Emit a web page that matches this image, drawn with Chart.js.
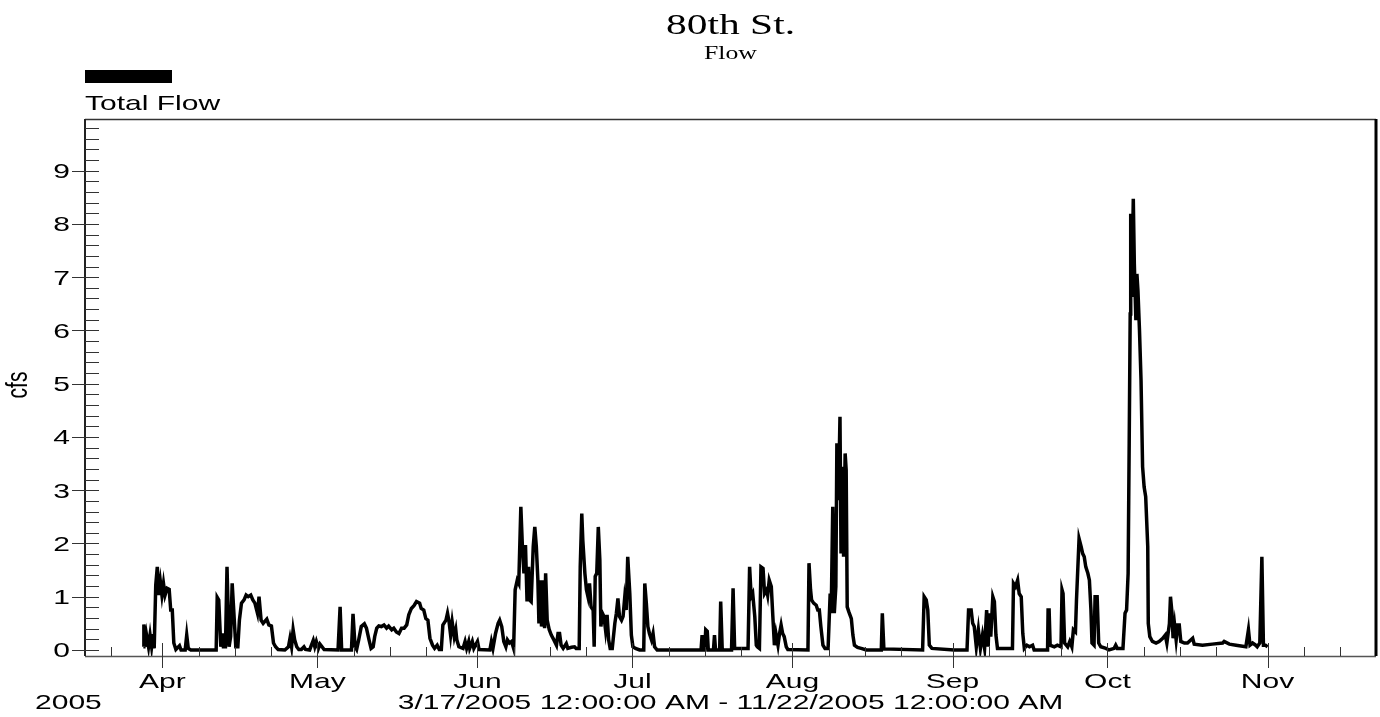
<!DOCTYPE html>
<html>
<head>
<meta charset="utf-8">
<title>80th St. - Flow</title>
<script src="https://cdn.jsdelivr.net/npm/chart.js@4.4.1/dist/chart.umd.min.js"></script>
<style>
    html, body { margin: 0; padding: 0; background: #fff; }
    canvas { display: block; }
</style>
</head>
<body>
<canvas id="flowChart" width="1380" height="717"></canvas>
<script>
// x values are days counted from 3/17/2005 12:00:00 AM
const flowDay = [
    11.3, 11.4, 11.6, 11.9, 12.3, 12.6, 12.9, 13.2, 13.4, 13.7, 14.0, 14.3, 14.6, 14.9, 15.2, 15.5,
    15.9, 16.3, 16.6, 16.9, 17.2, 17.6, 18.3, 18.6, 19.4, 19.7, 20.0, 20.5, 25.4, 25.6, 25.9, 26.3,
    26.6, 26.8, 27.2, 27.5, 27.9, 28.2, 28.5, 28.8, 29.2, 29.6, 29.9, 30.3, 30.8, 31.2, 31.6, 32.1,
    32.5, 32.9, 33.4, 33.7, 34.1, 34.5, 35.2, 35.6, 36.1, 36.5, 36.9, 37.4, 38.7, 39.4, 39.7, 40.0,
    40.3, 40.6, 41.0, 41.4, 41.9, 42.4, 42.7, 43.5, 44.2, 44.5, 44.8, 45.2, 45.5, 45.9, 46.3, 49.0,
    49.4, 49.7, 51.6, 51.9, 52.3, 52.6, 53.0, 53.5, 54.1, 54.5, 55.0, 55.4, 55.8, 56.1, 56.5, 56.9,
    57.4, 57.9, 58.4, 58.8, 59.4, 59.8, 60.3, 60.8, 61.3, 61.8, 62.3, 62.7, 63.2, 63.7, 64.2, 64.8,
    65.1, 65.6, 66.0, 66.4, 66.8, 67.3, 67.7, 68.2, 68.6, 69.0, 69.3, 69.9, 70.2, 70.5, 70.8, 71.1,
    71.5, 71.8, 72.0, 72.4, 73.2, 73.6, 73.9, 74.3, 74.5, 75.0, 75.3, 76.0, 76.3, 78.4, 78.7, 79.0,
    79.5, 80.0, 80.3, 80.7, 81.1, 81.5, 81.8, 82.2, 82.6, 83.0, 83.3, 83.7, 84.0, 84.4, 84.7, 85.0,
    85.3, 85.6, 85.9, 86.1, 86.4, 86.8, 87.1, 87.4, 87.7, 87.9, 88.2, 88.4, 88.8, 89.0, 89.2, 89.5,
    89.9, 90.3, 90.8, 91.3, 91.6, 91.9, 92.2, 92.6, 93.2, 93.5, 94.2, 94.8, 95.1, 95.7, 95.9, 96.2,
    96.4, 96.8, 97.1, 97.4, 97.7, 98.0, 98.4, 98.6, 98.8, 99.1, 99.4, 99.7, 99.9, 100.2, 100.5, 100.8,
    101.1, 101.4, 101.7, 102.1, 102.6, 102.9, 103.2, 103.5, 103.9, 104.2, 104.5, 104.8, 105.1, 105.5, 105.8, 106.1,
    106.6, 107.4, 108.2, 108.4, 108.7, 109.0, 109.3, 109.7, 110.0, 110.3, 110.8, 119.3, 119.5, 119.7, 120.0, 120.2,
    120.5, 120.7, 121.7, 121.9, 122.1, 122.9, 123.1, 123.4, 125.2, 125.5, 125.8, 128.4, 128.7, 129.0, 129.3, 129.7,
    130.0, 130.2, 130.6, 130.9, 131.3, 131.6, 132.0, 132.2, 132.5, 132.9, 133.2, 133.5, 133.8, 134.2, 134.5, 134.8,
    135.1, 135.4, 135.8, 136.1, 140.0, 140.2, 140.5, 140.7, 141.1, 141.6, 141.9, 142.2, 142.5, 142.9, 143.3, 143.9,
    144.3, 144.5, 144.8, 145.1, 145.4, 145.6, 145.9, 146.2, 146.4, 146.7, 146.9, 147.2, 147.4, 147.6, 147.9, 148.4,
    148.7, 149.0, 149.6, 150.3, 151.3, 154.2, 154.4, 154.7, 162.2, 162.5, 162.9, 163.2, 163.5, 164.0, 168.3, 170.8,
    171.1, 171.6, 171.9, 172.2, 172.6, 173.0, 173.4, 173.8, 174.2, 174.6, 174.9, 175.1, 175.4, 175.8, 176.1, 176.4,
    176.7, 179.6, 179.8, 180.2, 180.6, 180.9, 181.3, 181.6, 181.9, 182.4, 182.9, 183.5, 183.8, 186.4, 186.5, 186.7,
    186.9, 187.7, 188.3, 189.0, 189.2, 189.4, 189.7, 190.3, 190.7, 191.1, 191.4, 191.8, 192.0, 192.5, 192.9, 193.2,
    193.5, 193.8, 194.2, 194.5, 194.8, 195.0, 195.4, 195.6, 196.0, 196.3, 196.7, 197.7, 198.3, 199.3, 199.6, 199.9,
    201.0, 201.4, 201.7, 202.0, 202.2, 202.4, 202.5, 202.7, 203.0, 203.2, 203.5, 203.7, 203.9, 204.2, 204.5, 204.8,
    205.1, 205.4, 205.8, 205.9, 206.2, 206.7, 207.4, 208.0, 208.7, 209.2, 209.5, 210.0, 210.2, 210.5, 210.7, 211.0,
    211.3, 211.6, 211.9, 212.2, 212.9, 213.5, 214.5, 214.8, 216.4, 218.3, 220.3, 220.6, 221.6, 222.9, 224.8, 225.3,
    225.6, 226.1, 226.7, 227.0, 227.5, 227.9, 228.2, 228.6, 229.0
];

const flowCfs = [
    0.06, 0.48, 0.06, 0.29, 0.06, 0.28, 0.06, 0.30, 0.03, 1.22, 1.56, 1.03, 1.28, 1.03, 1.25, 1.03,
    1.16, 1.14, 0.75, 0.75, 0.13, 0.01, 0.08, 0, 0, 0.28, 0.03, 0, 0, 0.99, 0.94, 0.06,
    0.31, 0.06, 0.06, 1.56, 0.06, 0.25, 1.25, 0.75, 0.06, 0.06, 0.56, 0.88, 0.94, 1.03, 1.00, 1.03,
    0.94, 0.88, 0.69, 1.00, 0.56, 0.50, 0.58, 0.47, 0.45, 0.13, 0.06, 0.01, 0, 0.06, 0.22, 0.06,
    0.38, 0.19, 0.06, 0.01, 0.01, 0.06, 0.01, 0, 0.18, 0.06, 0.16, 0.03, 0.11, 0.06, 0.01, 0,
    0.81, 0, 0, 0.68, 0.06, 0.01, 0.19, 0.44, 0.49, 0.41, 0.19, 0.03, 0.06, 0.25, 0.41, 0.45,
    0.44, 0.47, 0.41, 0.45, 0.38, 0.41, 0.34, 0.31, 0.41, 0.41, 0.47, 0.66, 0.78, 0.83, 0.91, 0.88,
    0.78, 0.75, 0.59, 0.56, 0.22, 0.09, 0.03, 0.09, 0.01, 0.01, 0.47, 0.56, 0.69, 0.53, 0.28, 0.53,
    0.25, 0.38, 0.19, 0.06, 0.03, 0.16, 0.03, 0.16, 0.03, 0.16, 0.03, 0.16, 0.01, 0, 0.16, 0.03,
    0.31, 0.50, 0.56, 0.44, 0.16, 0.06, 0.19, 0.13, 0.16, 0.03, 1.13, 1.31, 1.25, 2.69, 1.94, 1.44,
    1.97, 0.91, 1.56, 0.94, 0.91, 1.94, 2.31, 1.94, 1.31, 0.50, 1.31, 0.44, 1.31, 0.41, 1.44, 0.56,
    0.38, 0.28, 0.19, 0.09, 0.31, 0.31, 0.09, 0.03, 0.12, 0.03, 0.05, 0.06, 0.03, 0.03, 1.56, 2.56,
    2.06, 1.44, 1.13, 1.00, 1.25, 0.81, 0.75, 0.06, 1.38, 1.44, 2.31, 1.69, 0.44, 0.69, 0.63, 0.38,
    0.66, 0.19, 0.03, 0.03, 0.50, 0.69, 0.97, 0.63, 0.56, 0.63, 0.97, 0.75, 1.75, 1.06, 0.28, 0.06,
    0.03, 0, 0, 1.25, 0.88, 0.44, 0.31, 0.19, 0.31, 0.06, 0, 0, 0.28, 0, 0, 0.38,
    0.35, 0, 0, 0.28, 0, 0, 0.91, 0, 0, 1.16, 0.03, 0.03, 1.56, 1.00, 1.06, 0.63,
    0.09, 0.06, 0.03, 1.56, 1.53, 1.06, 1.13, 1.03, 1.31, 1.19, 0.63, 0.09, 0.31, 0.09, 0.31, 0.47,
    0.31, 0.25, 0.06, 0.01, 0, 1.63, 1.13, 0.94, 0.88, 0.84, 0.75, 0.75, 0.44, 0.09, 0.03, 0.03,
    1.06, 0.69, 2.69, 0.69, 1.19, 3.88, 2.81, 4.38, 1.81, 3.44, 1.75, 3.69, 3.38, 0.81, 0.72, 0.59,
    0.28, 0.09, 0.05, 0.03, 0, 0, 0.69, 0.02, 0, 1.00, 0.94, 0.75, 0.09, 0.03, 0, 0,
    0.75, 0.75, 0.50, 0.44, 0.06, 0.38, 0.03, 0.28, 0.03, 0.75, 0.06, 0.69, 0.25, 1.00, 0.91, 0.28,
    0.03, 0.03, 1.25, 1.19, 1.31, 1.06, 1.00, 0.31, 0.03, 0.09, 0.06, 0.09, 0, 0, 0.75, 0.75,
    0.09, 0.06, 0.09, 0.06, 1.13, 1.06, 0.13, 0.06, 0.16, 0.06, 0.38, 0.34, 0.94, 2.09, 1.94, 1.81,
    1.75, 1.56, 1.44, 1.31, 0.75, 0.13, 0.09, 1.00, 1.00, 0.13, 0.06, 0.03, 0, 0.03, 0.09, 0.03,
    0.03, 0.69, 0.75, 1.44, 3.81, 6.31, 8.19, 6.63, 8.47, 7.25, 6.19, 7.06, 6.75, 6.00, 5.06, 3.44,
    3.06, 2.88, 1.94, 0.50, 0.25, 0.16, 0.13, 0.16, 0.22, 0.28, 0.13, 0.50, 1.00, 0.69, 0.22, 0.47,
    0.19, 0.47, 0.47, 0.16, 0.13, 0.13, 0.22, 0.11, 0.09, 0.11, 0.13, 0.16, 0.11, 0.09, 0.06, 0.38,
    0.09, 0.13, 0.09, 0.06, 0.13, 1.75, 0.09, 0.09, 0.06
];

// axis ticks (days from 3/17/2005)
const monthDays = [15, 45, 76, 106, 137, 168, 198, 229];
const monthLabels = ["Apr", "May", "Jun", "Jul", "Aug", "Sep", "Oct", "Nov"];
const weekDays = [5, 22, 29, 36, 52, 59, 66, 83, 90, 97, 113, 120, 127, 144, 151, 158, 175, 182, 189, 205, 212, 219, 236, 243];
const yMajorTicks = [0, 1, 2, 3, 4, 5, 6, 7, 8, 9];
const yTickLabels = ["0", "1", "2", "3", "4", "5", "6", "7", "8", "9"];

const SANS = '"Liberation Sans", Arial, sans-serif';
const SERIF = '"Liberation Serif", "Times New Roman", serif';
const STRETCH = 1.43; // the original picture is wide, text looks stretched

function drawText(ctx, text, x, y, font, align, rotated) {
    ctx.save();
    ctx.translate(x, y);
    ctx.scale(STRETCH, 1);
    if (rotated) ctx.rotate(-Math.PI / 2);
    ctx.font = font;
    ctx.textAlign = align;
    ctx.textBaseline = "alphabetic";
    ctx.fillStyle = "#000";
    ctx.fillText(text, 0, 0);
    ctx.restore();
}

function hLine(ctx, x1, x2, yy) {
    ctx.beginPath();
    ctx.moveTo(x1, Math.round(yy) + 0.5);
    ctx.lineTo(x2, Math.round(yy) + 0.5);
    ctx.stroke();
}

function vLine(ctx, xx, y1, y2) {
    ctx.beginPath();
    ctx.moveTo(Math.round(xx) + 0.5, y1);
    ctx.lineTo(Math.round(xx) + 0.5, y2);
    ctx.stroke();
}

const frameAndTicks = {
    id: "frameAndTicks",
    afterDraw(chart) {
        const { ctx, chartArea: a } = chart;
        const xs = chart.scales.x;
        const ys = chart.scales.y;
        const midX = (a.left + a.right) / 2;

        ctx.save();

        // frame
        ctx.strokeStyle = "#333";
        ctx.lineWidth = 1.5;
        hLine(ctx, a.left, a.right, a.top);
        ctx.strokeStyle = "#555";
        hLine(ctx, a.left, a.right, a.bottom);
        ctx.strokeStyle = "#222";
        ctx.lineWidth = 2;
        ctx.beginPath();
        ctx.moveTo(a.left, a.top);
        ctx.lineTo(a.left, a.bottom);
        ctx.stroke();
        ctx.strokeStyle = "#000";
        ctx.lineWidth = 3;
        ctx.beginPath();
        ctx.moveTo(a.right, a.top);
        ctx.lineTo(a.right, a.bottom);
        ctx.stroke();

        // y ticks: majors cross the axis, minors every 0.2 inside
        ctx.lineWidth = 1;
        ctx.strokeStyle = "#333";
        yMajorTicks.forEach((v, i) => {
            const py = ys.getPixelForValue(v);
            hLine(ctx, a.left - 13, a.left + 14, py);
            drawText(ctx, yTickLabels[i], a.left - 15, py + 7.5, "21px " + SANS, "right");
            if (v < 9.9) {
                for (let k = 1; k < 5; k++) {
                    hLine(ctx, a.left, a.left + 14, ys.getPixelForValue(v + k / 5));
                }
            }
        });

        // x ticks
        monthDays.forEach((d, i) => {
            const px = xs.getPixelForValue(d);
            vLine(ctx, px, a.bottom - 13, a.bottom + 12);
            drawText(ctx, monthLabels[i], px, 688, "21px " + SANS, "center");
        });
        weekDays.forEach(d => {
            vLine(ctx, xs.getPixelForValue(d), a.bottom - 9, a.bottom);
        });

        // titles and legend
        drawText(ctx, "80th St.", midX, 34, "29px " + SERIF, "center");
        drawText(ctx, "Flow", midX, 59, "18px " + SERIF, "center");
        ctx.fillStyle = "#000";
        ctx.fillRect(a.left, 70, 87, 13);
        drawText(ctx, "Total Flow", a.left, 110, "21px " + SANS, "left");

        drawText(ctx, "cfs", 27, 385, "21px " + SANS, "center", true);
        drawText(ctx, "2005", 35, 709, "21px " + SANS, "left");
        drawText(ctx, "3/17/2005 12:00:00 AM - 11/22/2005 12:00:00 AM", midX, 709, "21px " + SANS, "center");

        ctx.restore();
    }
};

new Chart(document.getElementById("flowChart"), {
    type: "line",
    data: {
        datasets: [
            {
                label: "Total Flow",
                data: flowDay.map((d, i) => ({ x: d, y: flowCfs[i] })),
                borderColor: "#000",
                borderWidth: 3.5,
                borderJoinStyle: "miter",
                pointRadius: 0,
                tension: 0,
                fill: false
            }
        ]
    },
    options: {
        responsive: false,
        animation: false,
        layout: {
            padding: { left: 85, top: 119, right: 4, bottom: 61 }
        },
        plugins: {
            legend: { display: false },
            tooltip: { enabled: false }
        },
        scales: {
            x: { type: "linear", min: 0, max: 250, display: false },
            y: { type: "linear", min: -0.113, max: 9.97, display: false }
        }
    },
    plugins: [frameAndTicks]
});
</script>
</body>
</html>
